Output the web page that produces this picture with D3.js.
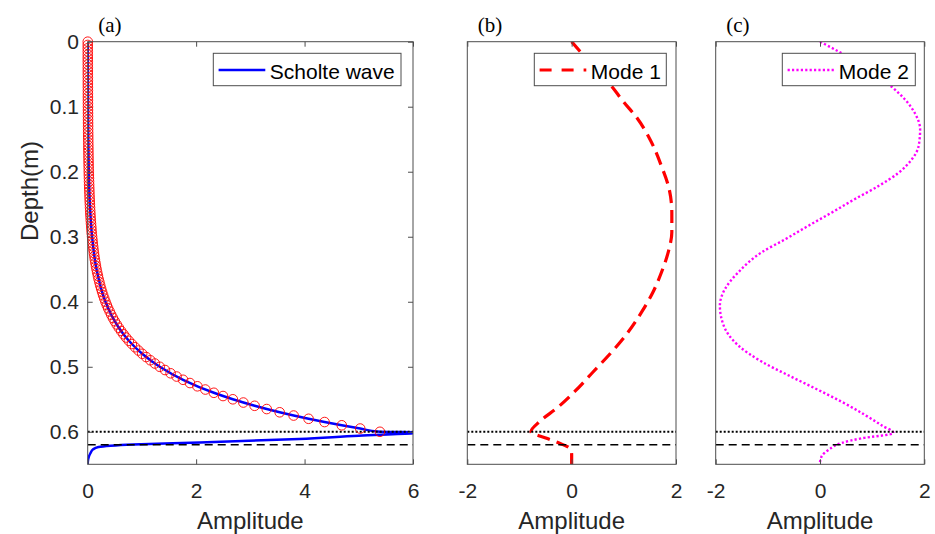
<!DOCTYPE html>
<html>
<head>
<meta charset="utf-8">
<script src="https://cdn.jsdelivr.net/npm/d3@7"></script>
<style>
  body { margin: 0; background: #fff; }
  svg { display: block; }
  .tick text { font-family: "Liberation Sans", Arial, sans-serif; fill: #262626; }
</style>
</head>
<body>
<div id="chart"></div>
<script>
// depth axis ticks and amplitude ticks
var depthTicks = [0, 0.1, 0.2, 0.3, 0.4, 0.5, 0.6];
var ampTicksA = [0, 2, 4, 6];
var ampTicksBC = [-2, 0, 2];

// interface lines
var interfaceDotted = 0.6;
var interfaceDashed = 0.62;

// Scholte wave (solid blue line)
var scholteDepth = [0, 0.05, 0.1, 0.15, 0.2, 0.25, 0.3, 0.35, 0.4, 0.42, 0.44, 0.46, 0.48, 0.5, 0.52, 0.54, 0.55, 0.56, 0.57, 0.58, 0.585, 0.59, 0.595, 0.6, 0.6008, 0.6023, 0.606, 0.611, 0.6165, 0.6196, 0.6215, 0.6235, 0.627, 0.633, 0.64, 0.645, 0.65];
var scholteAmp = [0.0012, 0.0024, 0.0049, 0.0099, 0.020, 0.040, 0.081, 0.163, 0.328, 0.434, 0.574, 0.759, 1.005, 1.329, 1.759, 2.327, 2.677, 3.079, 3.541, 4.074, 4.369, 4.686, 5.026, 5.39, 6.2, 6.0, 5.0, 3.9, 2.07, 0.84, 0.42, 0.2, 0.1, 0.05, 0.015, 0.004, 0];

// red circle markers
var markerDepth = [0, 0.005, 0.01, 0.015, 0.02, 0.025, 0.03, 0.035, 0.04, 0.045, 0.05, 0.055, 0.06, 0.065, 0.07, 0.075, 0.08, 0.085, 0.09, 0.095,
  0.1, 0.105, 0.11, 0.115, 0.12, 0.125, 0.13, 0.135, 0.14, 0.145, 0.15, 0.155, 0.16, 0.165, 0.17, 0.175, 0.18, 0.185, 0.19, 0.195,
  0.2, 0.205, 0.21, 0.215, 0.22, 0.225, 0.23, 0.235, 0.24, 0.245, 0.25, 0.255, 0.26, 0.265, 0.27, 0.275, 0.28, 0.285, 0.29, 0.295,
  0.3, 0.305, 0.31, 0.315, 0.32, 0.325, 0.33, 0.335, 0.34, 0.345, 0.35, 0.355, 0.36, 0.365, 0.37, 0.375, 0.38, 0.385, 0.39, 0.395,
  0.4, 0.405, 0.41, 0.415, 0.42, 0.425, 0.43, 0.435, 0.44, 0.445, 0.45, 0.455, 0.46, 0.465, 0.47, 0.475, 0.48, 0.485, 0.49, 0.495,
  0.5, 0.505, 0.51, 0.515, 0.52, 0.525, 0.53, 0.535, 0.54, 0.545, 0.55, 0.555, 0.56, 0.565, 0.57, 0.575, 0.58, 0.585, 0.59, 0.595, 0.6];
var markerAmp = [0.0012, 0.0013, 0.0014, 0.0015, 0.0016, 0.0017, 0.0018, 0.0020, 0.0021, 0.0023,
  0.0024, 0.0026, 0.0028, 0.0030, 0.0032, 0.0035, 0.0037, 0.0040, 0.0043, 0.0046,
  0.0049, 0.0053, 0.0057, 0.0061, 0.0065, 0.0070, 0.0075, 0.0080, 0.0086, 0.0092,
  0.0099, 0.0106, 0.0114, 0.0122, 0.0131, 0.0140, 0.0150, 0.0161, 0.0173, 0.0185,
  0.0199, 0.0213, 0.0229, 0.0245, 0.0263, 0.0282, 0.0303, 0.0325, 0.0348, 0.0374,
  0.0401, 0.043, 0.046, 0.049, 0.053, 0.057, 0.061, 0.066, 0.070, 0.075,
  0.081, 0.087, 0.093, 0.100, 0.107, 0.115, 0.123, 0.132, 0.142, 0.152,
  0.163, 0.175, 0.188, 0.201, 0.216, 0.231, 0.248, 0.266, 0.285, 0.306,
  0.328, 0.352, 0.377, 0.405, 0.434, 0.465, 0.499, 0.535, 0.574, 0.616,
  0.660, 0.708, 0.759, 0.815, 0.874, 0.937, 1.005, 1.078, 1.156, 1.239,
  1.329, 1.426, 1.529, 1.640, 1.759, 1.886, 2.023, 2.170, 2.327, 2.496,
  2.677, 2.871, 3.079, 3.302, 3.541, 3.798, 4.074, 4.369, 4.686, 5.026, 5.39];

// Mode 1 (red dashed)
var modeOneDepth = [0, 0.014, 0.069, 0.092, 0.117, 0.150, 0.191, 0.227, 0.263, 0.293, 0.324, 0.355, 0.385, 0.416, 0.447, 0.477, 0.508, 0.538, 0.564, 0.584, 0.600, 0.610, 0.618, 0.626, 0.635, 0.65];
var modeOneAmp = [0, 0.15, 0.77, 0.99, 1.25, 1.50, 1.72, 1.87, 1.92, 1.92, 1.85, 1.72, 1.56, 1.34, 1.08, 0.77, 0.41, 0.06, -0.29, -0.61, -0.78, -0.48, -0.22, -0.03, 0, 0];

// Mode 2 (magenta dotted)
var modeTwoDepth = [0, 0.018, 0.069, 0.089, 0.110, 0.135, 0.161, 0.181, 0.202, 0.222, 0.242, 0.263, 0.283, 0.304, 0.324, 0.355, 0.380, 0.406, 0.436, 0.467, 0.492, 0.513, 0.533, 0.554, 0.574, 0.590, 0.602, 0.610, 0.617, 0.628, 0.638, 0.648, 0.65];
var modeTwoAmp = [0, 0.42, 1.37, 1.63, 1.82, 1.92, 1.89, 1.76, 1.50, 1.12, 0.67, 0.22, -0.22, -0.67, -1.12, -1.57, -1.82, -1.92, -1.85, -1.57, -1.12, -0.61, -0.10, 0.42, 0.86, 1.18, 1.41, 0.80, 0.42, 0.16, 0.03, 0, 0];

var W = 935, H = 534;
var plotTop = 41.7, plotBottom = 464.3;
var sans = '"Liberation Sans", Arial, sans-serif';
var serif = '"Liberation Serif", "Times New Roman", serif';
var frameColor = "#4d4d4d";

var svg = d3.select("#chart").append("svg")
  .attr("width", W)
  .attr("height", H);

var yScale = d3.scaleLinear().domain([0, 0.65]).range([plotTop, plotBottom]);

var panels = [
  { id: "a", left: 87.7, right: 413, domain: [0, 6], ticks: ampTicksA, yLabels: true },
  { id: "b", left: 467.3, right: 676, domain: [-2, 2], ticks: ampTicksBC, yLabels: false },
  { id: "c", left: 715.7, right: 924.3, domain: [-2, 2], ticks: ampTicksBC, yLabels: false }
];

// plain hyphen for negative numbers, like the original figure
var fmtInt = function (d) { return String(d); };

panels.forEach(function (p) {
  p.x = d3.scaleLinear().domain(p.domain).range([p.left, p.right]);
  var g = svg.append("g").attr("id", "panel-" + p.id);
  p.g = g;

  // clip region for lines
  svg.append("clipPath").attr("id", "clip-" + p.id)
    .append("rect")
    .attr("x", p.left).attr("y", plotTop)
    .attr("width", p.right - p.left).attr("height", plotBottom - plotTop);
  p.plot = g.append("g").attr("clip-path", "url(#clip-" + p.id + ")");

  // bottom axis with labels (ticks pointing inside)
  var bx = g.append("g")
    .attr("transform", "translate(0," + plotBottom + ")")
    .call(d3.axisBottom(p.x).tickValues(p.ticks).tickSizeInner(-5).tickSizeOuter(0).tickPadding(18.5)
      .tickFormat(fmtInt));
  // top axis ticks only
  var tx = g.append("g")
    .attr("transform", "translate(0," + plotTop + ")")
    .call(d3.axisTop(p.x).tickValues(p.ticks).tickSizeInner(-5).tickSizeOuter(0).tickFormat(""));
  [bx, tx].forEach(function (ax) {
    ax.select(".domain").remove();
    ax.selectAll(".tick line").attr("stroke", frameColor);
    ax.selectAll(".tick text").style("font-size", "21px").attr("fill", "#262626");
  });

  if (p.yLabels) {
    var ly = g.append("g")
      .attr("transform", "translate(" + p.left + ",0)")
      .call(d3.axisLeft(yScale).tickValues(depthTicks).tickSizeInner(-5).tickSizeOuter(0).tickPadding(8.7)
        .tickFormat(function (d) { return d === 0 ? "0" : d3.format(".1f")(d); }));
    var ry = g.append("g")
      .attr("transform", "translate(" + p.right + ",0)")
      .call(d3.axisRight(yScale).tickValues(depthTicks).tickSizeInner(-5).tickSizeOuter(0).tickFormat(""));
    [ly, ry].forEach(function (ax) {
      ax.select(".domain").remove();
      ax.selectAll(".tick line").attr("stroke", frameColor);
      ax.selectAll(".tick text").style("font-size", "21px").attr("fill", "#262626");
    });
  }

  // x label
  g.append("text")
    .attr("x", (p.left + p.right) / 2)
    .attr("y", 529)
    .attr("text-anchor", "middle")
    .style("font-family", sans)
    .style("font-size", "24px")
    .attr("fill", "#262626")
    .text("Amplitude");

  // panel letter
  g.append("text")
    .attr("x", p.left + 10.5)
    .attr("y", 32)
    .style("font-family", serif)
    .style("font-size", "21px")
    .attr("fill", "#000")
    .text("(" + p.id + ")");
});

function pairs(depth, amp) {
  return depth.map(function (d, i) { return [amp[i], d]; });
}

function lineFor(p) {
  return d3.line()
    .x(function (d) { return p.x(d[0]); })
    .y(function (d) { return yScale(d[1]); })
    .curve(d3.curveMonotoneY);
}

// panel (a): Scholte wave + markers
var pa = panels[0];
pa.plot.append("path")
  .datum(pairs(scholteDepth, scholteAmp))
  .attr("d", lineFor(pa))
  .attr("fill", "none")
  .attr("stroke", "#0000ff")
  .attr("stroke-width", 2.5);

pa.g.append("g")
  .selectAll("circle")
  .data(pairs(markerDepth, markerAmp))
  .enter().append("circle")
  .attr("cx", function (d) { return pa.x(d[0]); })
  .attr("cy", function (d) { return yScale(d[1]); })
  .attr("r", 4.8)
  .attr("fill", "none")
  .attr("stroke", "#ff0000")
  .attr("stroke-width", 0.9);

// panel (b): Mode 1
var pb = panels[1];
pb.plot.append("path")
  .datum(pairs(modeOneDepth, modeOneAmp))
  .attr("d", lineFor(pb))
  .attr("fill", "none")
  .attr("stroke", "#ff0000")
  .attr("stroke-width", 3.2)
  .attr("stroke-dasharray", "13,7");

// panel (c): Mode 2
var pc = panels[2];
pc.plot.append("path")
  .datum(pairs(modeTwoDepth, modeTwoAmp))
  .attr("d", lineFor(pc))
  .attr("fill", "none")
  .attr("stroke", "#ff00ff")
  .attr("stroke-width", 2.4)
  .attr("stroke-dasharray", "2.2,2.2");

// interface lines, frame and legends
var legends = [
  { label: "Scholte wave", color: "#0000ff", width: 2.5, dash: null, boxLeft: 213.3, boxRight: 401 },
  { label: "Mode 1", color: "#ff0000", width: 3.2, dash: "12,10", boxLeft: 534.3, boxRight: 666.3 },
  { label: "Mode 2", color: "#ff00ff", width: 2.4, dash: "2.2,2.2", boxLeft: 782.3, boxRight: 915.3 }
];

panels.forEach(function (p, i) {
  p.plot.append("line")
    .attr("x1", p.left).attr("x2", p.right)
    .attr("y1", yScale(interfaceDotted)).attr("y2", yScale(interfaceDotted))
    .attr("stroke", "#000")
    .attr("stroke-width", 2)
    .attr("stroke-dasharray", "2,2");
  p.plot.append("line")
    .attr("x1", p.left).attr("x2", p.right)
    .attr("y1", yScale(interfaceDashed)).attr("y2", yScale(interfaceDashed))
    .attr("stroke", "#000")
    .attr("stroke-width", 1.5)
    .attr("stroke-dasharray", "8,5");

  p.g.append("rect")
    .attr("x", p.left).attr("y", plotTop)
    .attr("width", p.right - p.left).attr("height", plotBottom - plotTop)
    .attr("fill", "none")
    .attr("stroke", frameColor)
    .attr("stroke-width", 1);

  var L = legends[i];
  var lg = p.g.append("g").attr("class", "legend");
  lg.append("rect")
    .attr("x", L.boxLeft).attr("y", 53.3)
    .attr("width", L.boxRight - L.boxLeft).attr("height", 32.4)
    .attr("fill", "#fff")
    .attr("stroke", frameColor)
    .attr("stroke-width", 1);
  var ln = lg.append("line")
    .attr("x1", L.boxLeft + 5.3).attr("x2", L.boxLeft + 52)
    .attr("y1", 70).attr("y2", 70)
    .attr("stroke", L.color)
    .attr("stroke-width", L.width);
  if (L.dash) ln.attr("stroke-dasharray", L.dash);
  lg.append("text")
    .attr("x", L.boxLeft + 56.5)
    .attr("y", 78.5)
    .style("font-family", sans)
    .style("font-size", "21px")
    .attr("fill", "#000")
    .text(L.label);
});

// y label
svg.append("text")
  .attr("transform", "translate(38,191) rotate(-90)")
  .attr("text-anchor", "middle")
  .style("font-family", sans)
  .style("font-size", "24px")
  .attr("fill", "#262626")
  .text("Depth(m)");
</script>
</body>
</html>
